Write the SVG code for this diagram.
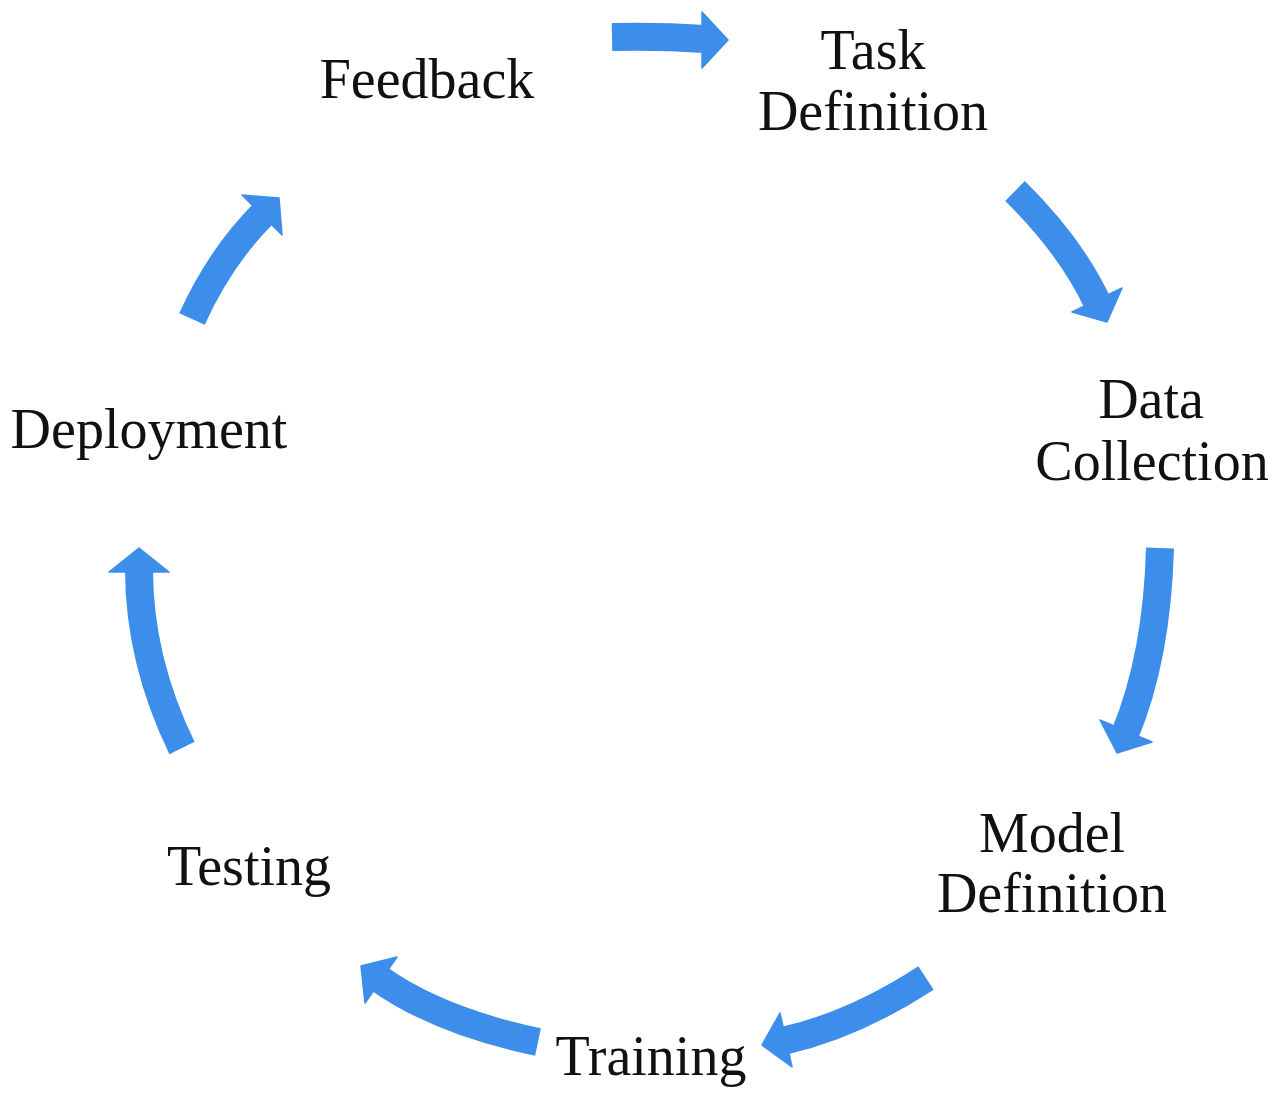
<svg xmlns="http://www.w3.org/2000/svg" width="1280" height="1096" viewBox="0 0 1280 1096">
<style>
.lbl{font-family:"Liberation Serif","Times New Roman",serif;font-size:56px;fill:#111;text-anchor:middle}
.shaft{fill:none;stroke:#3d8eea;stroke-width:28;stroke-linecap:butt}
.head{fill:#3d8eea;stroke:#3d8eea;stroke-width:1.5;stroke-linejoin:round}
</style>
<rect width="1280" height="1096" fill="#fff"/>
<g id="connectors">
<g id="a1"><path class="shaft" d="M612,37 Q660,36 705,39"/><polygon class="head" points="702,12 728,40 702,68"/></g>
<g id="a2"><path class="shaft" d="M1015,191 Q1071,246 1098,304"/><polygon class="head" points="1072,312 1107,322 1122,288"/></g>
<g id="a3"><path class="shaft" d="M1160,548 Q1157,657 1125,734"/><polygon class="head" points="1100,720 1117,753 1152,742"/></g>
<g id="a4"><path class="shaft" d="M926,978 Q854,1025 783,1041"/><polygon class="head" points="780,1013 762,1045 792,1067"/></g>
<g id="a5"><path class="shaft" d="M538,1042 Q438,1021 378,978"/><polygon class="head" points="397,957 361,966 365,1003"/></g>
<g id="a6"><path class="shaft" d="M182,748 Q139,660 139,569"/><polygon class="head" points="109,572 139,548 169,572"/></g>
<g id="a7"><path class="shaft" d="M192,319 Q220,257 264,213"/><polygon class="head" points="242,195 279,198 282,235"/></g>
</g>
<g id="feedback"><text class="lbl" x="427" y="98">Feedback</text></g>
<g id="task-definition"><text class="lbl" x="873" y="69">Task</text><text class="lbl" x="873" y="130">Definition</text></g>
<g id="data-collection"><text class="lbl" x="1151" y="418">Data</text><text class="lbl" x="1152" y="480">Collection</text></g>
<g id="model-definition"><text class="lbl" x="1052" y="852">Model</text><text class="lbl" x="1052" y="912">Definition</text></g>
<g id="training"><text class="lbl" x="651" y="1075">Training</text></g>
<g id="testing"><text class="lbl" x="249" y="885">Testing</text></g>
<g id="deployment"><text class="lbl" x="149" y="448">Deployment</text></g>
</svg>
